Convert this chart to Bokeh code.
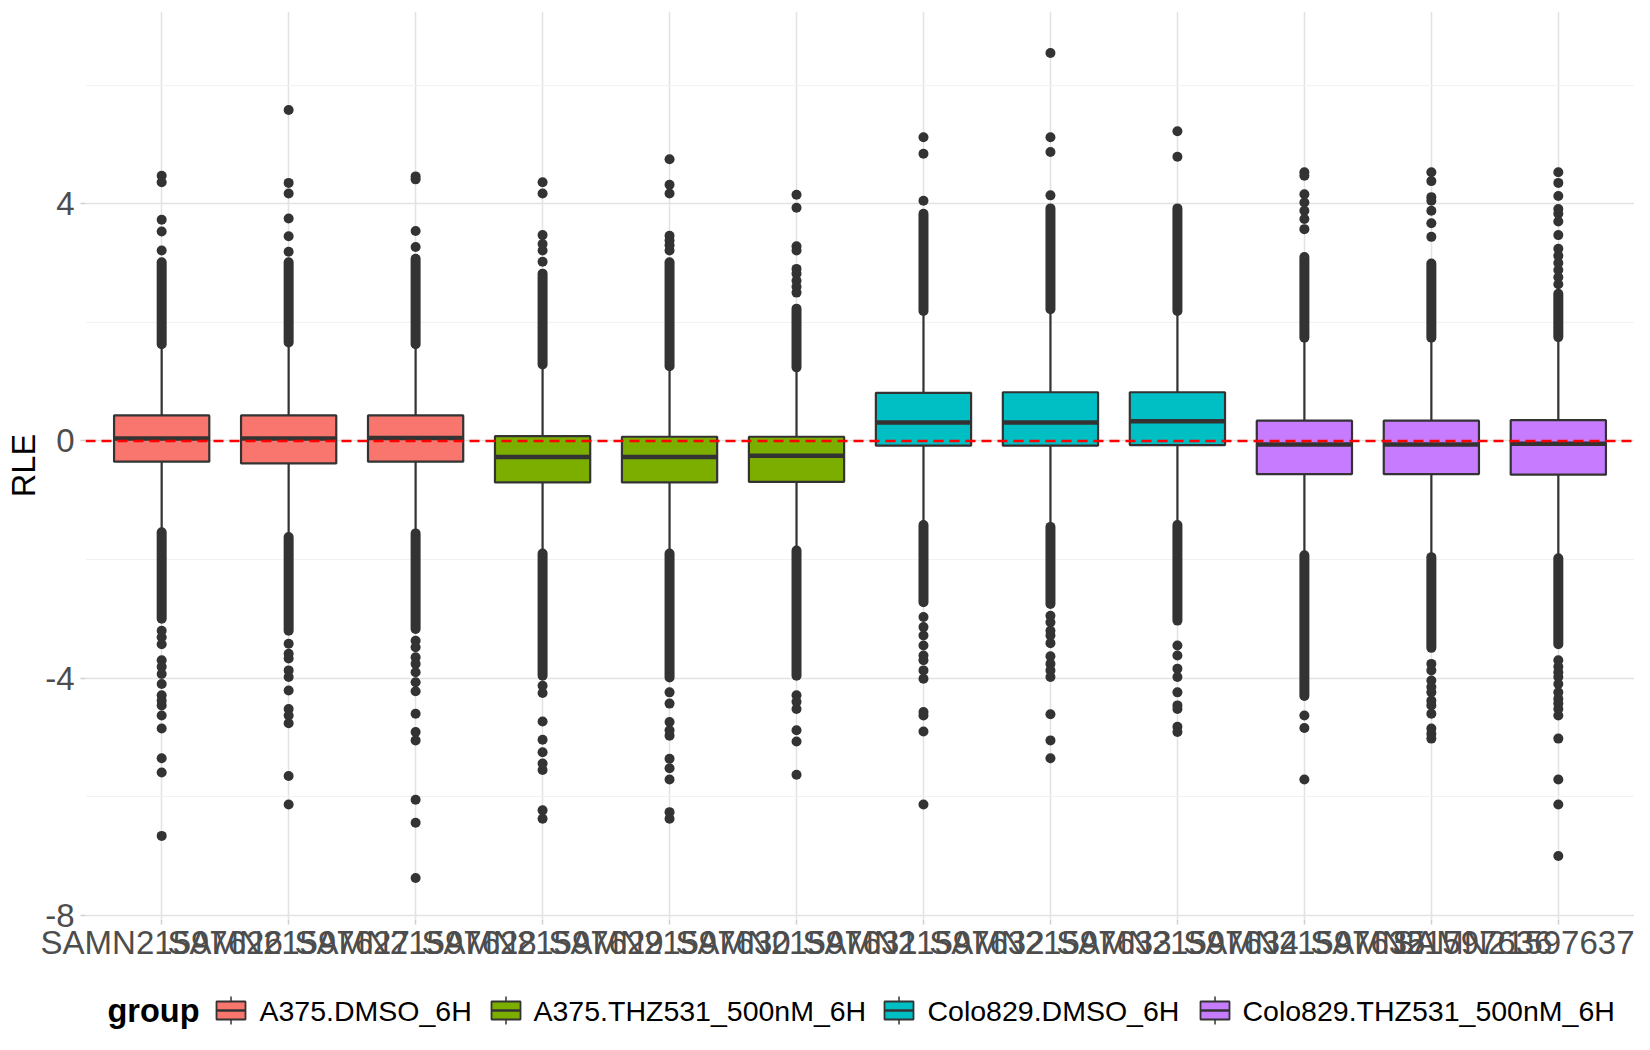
from bokeh.plotting import figure
from bokeh.models import Range1d, FixedTicker, Span
from bokeh.layouts import column
from bokeh.embed import file_html
from bokeh.resources import INLINE
from bokeh.core.properties import value

# ---------------- data ----------------
samples = ["SAMN21597626", "SAMN21597627", "SAMN21597628", "SAMN21597629",
           "SAMN21597630", "SAMN21597631", "SAMN21597632", "SAMN21597633",
           "SAMN21597634", "SAMN21597635", "SAMN21597636", "SAMN21597637"]

group_names = ["A375.DMSO_6H", "A375.THZ531_500nM_6H",
               "Colo829.DMSO_6H", "Colo829.THZ531_500nM_6H"]
group_colors = ["#F8766D", "#7CAE00", "#00BFC4", "#C77CFF"]
sample_group = [0, 0, 0, 1, 1, 1, 2, 2, 2, 3, 3, 3]

q1 =     [-0.35, -0.38, -0.35, -0.70, -0.70, -0.69, -0.08, -0.08, -0.07, -0.56, -0.56, -0.57]
median = [0.04, 0.04, 0.05, -0.27, -0.27, -0.25, 0.31, 0.31, 0.33, -0.06, -0.06, -0.05]
q3 =     [0.43, 0.43, 0.43, 0.08, 0.07, 0.07, 0.81, 0.82, 0.82, 0.34, 0.34, 0.35]

# whisker ends
whisker_high = [1.63, 1.66, 1.63, 1.29, 1.26, 1.24, 2.19, 2.22, 2.19, 1.74, 1.74, 1.75]
whisker_low =  [-1.54, -1.62, -1.56, -1.90, -1.90, -1.85, -1.42, -1.45, -1.42, -1.93, -1.96, -1.98]

# densely packed outlier runs (continuous bands of points)
upper_band_top = [3.01, 3.01, 3.07, 2.82, 3.01, 2.23, 3.83, 3.92, 3.92, 3.10, 2.99, 2.48]
lower_band_bottom = [-3.00, -3.20, -3.17, -3.96, -3.99, -3.96, -2.72, -2.75, -3.03, -4.30, -3.49, -3.43]

# isolated outliers
outliers_high = [
    [4.47, 4.36, 3.73, 3.53, 3.21],
    [5.58, 4.35, 4.17, 3.75, 3.45, 3.19],
    [4.46, 4.41, 3.54, 3.27],
    [4.36, 4.17, 3.47, 3.32, 3.21, 3.02],
    [4.75, 4.32, 4.17, 3.46, 3.38, 3.30, 3.21],
    [4.15, 3.93, 3.28, 3.21, 2.90, 2.82, 2.70, 2.60, 2.50],
    [5.12, 4.84, 4.05],
    [6.54, 5.12, 4.87, 4.14],
    [5.22, 4.79],
    [4.53, 4.47, 4.16, 4.02, 3.88, 3.74, 3.57],
    [4.53, 4.38, 4.11, 4.05, 3.88, 3.67, 3.44],
    [4.53, 4.35, 4.13, 3.91, 3.83, 3.70, 3.47, 3.24, 3.12, 3.00, 2.88, 2.76, 2.64],
]
outliers_low = [
    [-3.20, -3.31, -3.43, -3.70, -3.81, -3.93, -4.10, -4.29, -4.38, -4.46, -4.63, -4.85, -5.35, -5.59, -6.66],
    [-3.42, -3.59, -3.67, -3.87, -3.98, -4.21, -4.52, -4.63, -4.76, -5.65, -6.13],
    [-3.37, -3.48, -3.65, -3.76, -3.90, -4.07, -4.22, -4.60, -4.91, -5.05, -6.05, -6.44, -7.37],
    [-4.13, -4.25, -4.73, -5.04, -5.25, -5.44, -5.55, -6.23, -6.37],
    [-4.24, -4.43, -4.74, -4.88, -4.97, -5.36, -5.52, -5.71, -6.26, -6.37],
    [-4.29, -4.40, -4.52, -4.88, -5.07, -5.63],
    [-2.97, -3.14, -3.28, -3.45, -3.62, -3.70, -3.87, -4.01, -4.57, -4.63, -4.90, -6.13],
    [-2.95, -3.06, -3.20, -3.28, -3.41, -3.63, -3.76, -3.87, -3.98, -4.61, -5.05, -5.35],
    [-3.45, -3.62, -3.84, -3.98, -4.24, -4.46, -4.52, -4.82, -4.91],
    [-4.63, -4.84, -5.71],
    [-3.76, -3.87, -4.04, -4.15, -4.24, -4.38, -4.46, -4.60, -4.85, -4.94, -5.02],
    [-3.70, -3.81, -3.90, -3.98, -4.10, -4.24, -4.35, -4.43, -4.52, -4.63, -5.02, -5.71, -6.13, -7.00],
]

y_ticks = [-8, -4, 0, 4]
y_tick_labels = ["-8", "-4", "0", "4"]
y_minor = [-6, -2, 2, 6]
reference_level = 0

# ---------------- styling ----------------
FONT = "Liberation Sans"
DARK = "#333333"
BOX_W = 0.75
FIG_W = 1634
n = len(samples)
xs = [i + 1 for i in range(n)]
fills = [group_colors[g] for g in sample_group]

p = figure(width=FIG_W, height=970, output_backend="svg", toolbar_location=None,
           x_range=Range1d(0.4, n + 0.6), y_range=Range1d(-8.07, 7.24),
           min_border_left=85, min_border_right=0, min_border_top=11, min_border_bottom=51)
p.outline_line_color = None
p.background_fill_color = "white"
p.border_fill_color = "white"

p.xaxis.ticker = FixedTicker(ticks=xs)
p.xaxis.major_label_overrides = {x: s for x, s in zip(xs, samples)}
p.yaxis.ticker = FixedTicker(ticks=y_ticks, minor_ticks=y_minor)
p.yaxis.major_label_overrides = {t: s for t, s in zip(y_ticks, y_tick_labels)}

for ax in (p.xaxis[0], p.yaxis[0]):
    ax.axis_line_color = None
    ax.major_tick_line_color = "#CFCFCF"
    ax.major_tick_line_width = 1.5
    ax.major_tick_out = 5
    ax.major_tick_in = 0
    ax.minor_tick_line_color = None
    ax.major_label_text_font = FONT
    ax.major_label_text_font_size = "33px"
    ax.major_label_text_color = "#4D4D4D"
p.xaxis.major_label_standoff = -1
p.yaxis.major_label_standoff = 6

p.yaxis.axis_label = "RLE"
p.yaxis.axis_label_text_font = FONT
p.yaxis.axis_label_text_font_size = "32.5px"
p.yaxis.axis_label_text_font_style = "normal"
p.yaxis.axis_label_text_color = "black"
p.yaxis.axis_label_standoff = 0

p.xgrid.grid_line_color = "#E3E3E3"
p.xgrid.grid_line_width = 1.6
p.ygrid.grid_line_color = "#E3E3E3"
p.ygrid.grid_line_width = 1.6
p.ygrid.minor_grid_line_color = "#F2F2F2"
p.ygrid.minor_grid_line_width = 1.2

# whiskers
p.segment(x0=xs, y0=q3, x1=xs, y1=whisker_high, line_color=DARK, line_width=2.2)
p.segment(x0=xs, y0=q1, x1=xs, y1=whisker_low, line_color=DARK, line_width=2.2)

# boxes
p.vbar(x=xs, width=BOX_W, top=q3, bottom=q1, fill_color=fills,
       line_color=DARK, line_width=2.2)
# medians
p.segment(x0=[x - BOX_W / 2 for x in xs], y0=median, x1=[x + BOX_W / 2 for x in xs],
          y1=median, line_color=DARK, line_width=4.5)

# dense outlier runs
p.segment(x0=xs, y0=whisker_high, x1=xs, y1=upper_band_top, line_color=DARK,
          line_width=10, line_cap="round")
p.segment(x0=xs, y0=whisker_low, x1=xs, y1=lower_band_bottom, line_color=DARK,
          line_width=10, line_cap="round")

# isolated outliers
ox, oy = [], []
for x, hi, lo in zip(xs, outliers_high, outliers_low):
    for v in hi + lo:
        ox.append(x)
        oy.append(v)
p.scatter(x=ox, y=oy, size=10, fill_color=DARK, line_color=None)

p.add_layout(Span(location=reference_level, dimension="width", line_color="red",
                  line_dash="10 6", line_width=2.5))

# ---------------- legend (drawn in its own pixel-space strip) ----------------
LH = 64
lg = figure(width=FIG_W, height=LH, output_backend="svg", toolbar_location=None,
            x_range=Range1d(85, FIG_W), y_range=Range1d(0, LH),
            x_axis_location=None, y_axis_location=None,
            min_border_left=85, min_border_right=0, min_border_top=0, min_border_bottom=0)
lg.outline_line_color = None
lg.grid.visible = False
lg.background_fill_color = "white"
lg.border_fill_color = "white"

yc = 24
key_left = [216, 491, 884, 1200]
key_w = 29
text_x = [259, 533, 927, 1242]

lg.text(x=[107], y=[yc], text=["group"], text_font=value(FONT), text_font_size="32.5px",
        text_font_style="bold", text_baseline="middle", text_color="black")
kx = [k + key_w / 2 for k in key_left]
lg.segment(x0=kx, y0=[yc - 14] * 4, x1=kx, y1=[yc + 14] * 4, line_color=DARK, line_width=1.5)
lg.rect(x=kx, y=[yc] * 4, width=key_w, height=18, fill_color=group_colors,
        line_color=DARK, line_width=1.8)
lg.segment(x0=key_left, y0=[yc] * 4, x1=[k + key_w for k in key_left], y1=[yc] * 4,
           line_color=DARK, line_width=2.5)
lg.text(x=text_x, y=[yc] * 4, text=group_names, text_font=value(FONT),
        text_font_size="28.5px", text_baseline="middle", text_color="black")

layout = column(p, lg)
open("out.html", "w").write(file_html(layout, INLINE))
